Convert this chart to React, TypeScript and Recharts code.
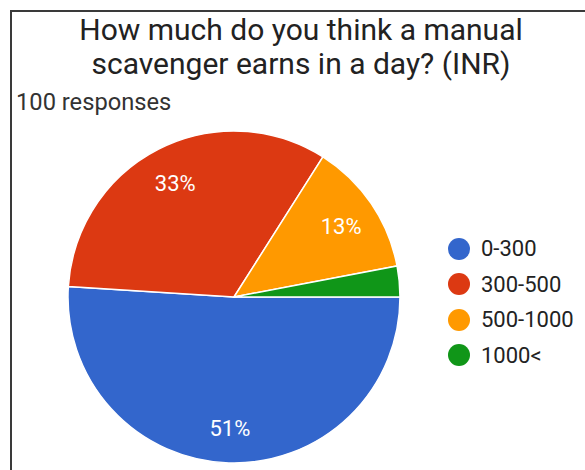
import { PieChart, Pie, Cell } from "recharts";

const categories = ["0-300", "300-500", "500-1000", "1000<"];
const responses = [51, 33, 13, 3];
const colors = ["#3366CC", "#DC3912", "#FF9900", "#109618"];

const data = categories.map((name, i) => ({ name, value: responses[i] }));

const RAD = Math.PI / 180;

function renderLabel(props: any) {
  const { cx, cy, midAngle, outerRadius, percent } = props;
  if (percent < 0.05) return null;
  const r = outerRadius * 0.78;
  const x = cx + r * Math.cos(-midAngle * RAD);
  const y = cy + r * Math.sin(-midAngle * RAD);
  return (
    <text x={x} y={y + 2} fill="#fff" fontSize={22} textAnchor="middle" dominantBaseline="central" fontFamily="Roboto, Arial, sans-serif">
      {Math.round(percent * 100)}%
    </text>
  );
}

export default function App() {
  return (
    <div style={{ position: "absolute", left: 0, top: 0, width: 585, height: 470, background: "#fff", overflow: "hidden", fontFamily: "Roboto, Arial, sans-serif" }}>
      <div style={{ position: "absolute", left: 10, top: 10, right: 0, bottom: 0, borderTop: "2px solid #3a3a3a", borderLeft: "2px solid #3a3a3a" }} />
      <div style={{ position: "absolute", left: 0, top: 13, width: 602, textAlign: "center", fontSize: 30, lineHeight: "34px", color: "#222" }}>
        How much do you think a manual
        <br />
        scavenger earns in a day? (INR)
      </div>
      <div style={{ position: "absolute", left: 16, top: 88, fontSize: 23.7, color: "#333" }}>100 responses</div>
      <div style={{ position: "absolute", left: 0, top: 0 }}>
        <PieChart width={585} height={470} margin={{ top: 0, right: 0, bottom: 0, left: 0 }}>
          <Pie
            data={data}
            dataKey="value"
            nameKey="name"
            cx={234}
            cy={297}
            outerRadius={166}
            startAngle={0}
            endAngle={-360}
            stroke="#fff"
            strokeWidth={1.5}
            label={renderLabel}
            labelLine={false}
            isAnimationActive={false}
          >
            {data.map((d, i) => (
              <Cell key={d.name} fill={colors[i]} />
            ))}
          </Pie>
        </PieChart>
      </div>
      <div style={{ position: "absolute", left: 448, top: 231 }}>
        {categories.map((c, i) => (
          <div key={c} style={{ display: "flex", alignItems: "center", height: 35.5 }}>
            <span style={{ width: 22, height: 22, borderRadius: "50%", background: colors[i], display: "inline-block", marginRight: 11 }} />
            <span style={{ fontSize: 22, color: "#222" }}>{c}</span>
          </div>
        ))}
      </div>
    </div>
  );
}
